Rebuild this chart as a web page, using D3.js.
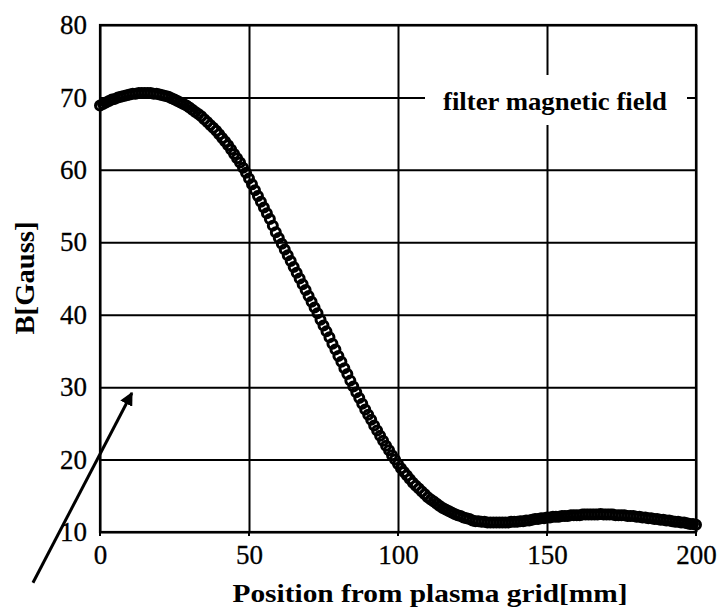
<!DOCTYPE html>
<html>
<head>
<meta charset="utf-8">
<script src="https://cdn.jsdelivr.net/npm/d3@7"></script>
<style>
  body { margin: 0; background: #fff; }
  svg text { font-family: "Liberation Serif", "Times New Roman", serif; fill: #000; }
</style>
</head>
<body>
<div id="chart"></div>
<script>
// Filter magnetic field B along the axis, one reading per mm from the plasma grid.
var positions = d3.range(0, 201); // mm
var fieldValues = [
  68.9, 69.1, 69.3, 69.5, 69.7, 69.8, 70.0, 70.1, 70.2, 70.3, 70.4, 70.5, 70.5, 70.6, 70.6, 70.6,
  70.6, 70.6, 70.5, 70.5, 70.4, 70.3, 70.2, 70.1, 69.9, 69.7, 69.5, 69.3, 69.1, 68.9, 68.6,
  68.3, 68.0, 67.7, 67.4, 67.0, 66.6, 66.2, 65.8, 65.4, 64.9, 64.4, 63.9, 63.4, 62.8, 62.2,
  61.6, 61.0, 60.3, 59.6, 58.8, 58.0, 57.2, 56.4, 55.6, 54.8, 54.0, 53.2, 52.3, 51.4, 50.6,
  49.8, 49.0, 48.2, 47.4, 46.6, 45.8, 45.0, 44.2, 43.4, 42.6, 41.8, 41.0, 40.2, 39.3, 38.5,
  37.7, 36.9, 36.0, 35.2, 34.3, 33.5, 32.6, 31.8, 30.9, 30.1, 29.3, 28.5, 27.7, 26.9, 26.2,
  25.5, 24.7, 24.0, 23.3, 22.6, 21.9, 21.3, 20.6, 20.0, 19.4, 18.8, 18.3, 17.8, 17.3, 16.8,
  16.4, 16.0, 15.6, 15.2, 14.8, 14.5, 14.2, 13.9, 13.6, 13.3, 13.1, 12.9, 12.7, 12.5, 12.3,
  12.2, 12.0, 11.9, 11.8, 11.6, 11.5, 11.5, 11.4, 11.4, 11.3, 11.3, 11.3, 11.3, 11.3, 11.3,
  11.3, 11.3, 11.4, 11.4, 11.4, 11.5, 11.5, 11.6, 11.6, 11.7, 11.8, 11.8, 11.9, 11.9, 12.0,
  12.0, 12.1, 12.1, 12.1, 12.2, 12.2, 12.2, 12.3, 12.3, 12.3, 12.3, 12.4, 12.4, 12.4, 12.4,
  12.4, 12.4, 12.5, 12.4, 12.4, 12.4, 12.4, 12.3, 12.3, 12.3, 12.3, 12.2, 12.2, 12.2, 12.1,
  12.1, 12.0, 12.0, 11.9, 11.9, 11.8, 11.8, 11.7, 11.7, 11.6, 11.6, 11.5, 11.4, 11.4, 11.3,
  11.3, 11.2, 11.1, 11.1, 11.0
];
var xTicks = [0, 50, 100, 150, 200];
var yTicks = [10, 20, 30, 40, 50, 60, 70, 80];
var seriesName = "filter magnetic field";
var xTitle = "Position from plasma grid[mm]";
var yTitle = "B[Gauss]";
// pointer drawn from below the axes up into the plot, [mm, Gauss]
var pointerFrom = [-22.5, 3.0];
var pointerTo = [10.7, 29.2];

var W = 718, H = 612;
var margin = { top: 25, right: 22, bottom: 80, left: 100 };
var width = W - margin.left - margin.right;
var height = H - margin.top - margin.bottom;

var svg = d3.select("#chart").append("svg")
  .attr("width", W)
  .attr("height", H);

var defs = svg.append("defs");
defs.append("marker")
  .attr("id", "head")
  .attr("viewBox", "0 0 10 10")
  .attr("refX", 9)
  .attr("refY", 5)
  .attr("markerWidth", 4.5)
  .attr("markerHeight", 4.5)
  .attr("orient", "auto")
  .attr("markerUnits", "strokeWidth")
  .append("path")
  .attr("d", "M0,0 L10,5 L0,10 z")
  .attr("fill", "#000");

var g = svg.append("g")
  .attr("transform", "translate(" + margin.left + "," + margin.top + ")");

var x = d3.scaleLinear().domain([0, 200]).range([0, width]);
var y = d3.scaleLinear().domain([10, 80]).range([height, 0]);

// grid + tick labels
var yAxis = g.append("g")
  .call(d3.axisLeft(y).tickValues(yTicks).tickSize(-width).tickPadding(13).tickFormat(d3.format("d")));
var xAxis = g.append("g")
  .attr("transform", "translate(0," + height + ")")
  .call(d3.axisBottom(x).tickValues(xTicks).tickSize(-height).tickPadding(13).tickFormat(d3.format("d")));

[xAxis, yAxis].forEach(function (a) {
  a.select(".domain").remove();
  a.selectAll(".tick line").attr("stroke", "#000").attr("stroke-width", 2);
  a.selectAll(".tick text")
    .style("font-size", "27px")
    .attr("stroke", "#000")
    .attr("stroke-width", 0.3);
});

// small outward ticks under the x axis
g.append("g")
  .attr("transform", "translate(0," + height + ")")
  .selectAll("line")
  .data(xTicks)
  .enter().append("line")
  .attr("x1", function (d) { return x(d); })
  .attr("x2", function (d) { return x(d); })
  .attr("y1", 0)
  .attr("y2", 4)
  .attr("stroke", "#000")
  .attr("stroke-width", 2);

g.append("rect")
  .attr("width", width)
  .attr("height", height)
  .attr("fill", "none")
  .attr("stroke", "#000")
  .attr("stroke-width", 2.2);

// series: open circle markers
var data = positions.map(function (p, i) { return { x: p, b: fieldValues[i] }; });

g.append("g")
  .selectAll("circle")
  .data(data)
  .enter().append("circle")
  .attr("cx", function (d) { return x(d.x); })
  .attr("cy", function (d) { return y(d.b); })
  .attr("r", 4.5)
  .attr("fill", "none")
  .attr("stroke", "#000")
  .attr("stroke-width", 3);

// legend sits on a white patch over the grid
var legend = g.append("g").attr("transform", "translate(325,50)");
legend.append("rect")
  .attr("width", 262)
  .attr("height", 50)
  .attr("fill", "#fff");
legend.append("text")
  .attr("x", 130)
  .attr("y", 35)
  .attr("text-anchor", "middle")
  .attr("textLength", 224)
  .attr("lengthAdjust", "spacingAndGlyphs")
  .style("font-size", "26px")
  .style("font-weight", "bold")
  .text(seriesName);

// axis titles
svg.append("text")
  .attr("x", 430)
  .attr("y", 602)
  .attr("text-anchor", "middle")
  .attr("textLength", 395)
  .attr("lengthAdjust", "spacingAndGlyphs")
  .style("font-size", "26px")
  .style("font-weight", "bold")
  .text(xTitle);

svg.append("text")
  .attr("transform", "translate(34,278) rotate(-90)")
  .attr("text-anchor", "middle")
  .attr("textLength", 113)
  .attr("lengthAdjust", "spacingAndGlyphs")
  .style("font-size", "27px")
  .style("font-weight", "bold")
  .text(yTitle);

// pointer arrow
g.append("line")
  .attr("x1", x(pointerFrom[0]))
  .attr("y1", y(pointerFrom[1]))
  .attr("x2", x(pointerTo[0]))
  .attr("y2", y(pointerTo[1]))
  .attr("stroke", "#000")
  .attr("stroke-width", 3)
  .attr("marker-end", "url(#head)");
</script>
</body>
</html>
